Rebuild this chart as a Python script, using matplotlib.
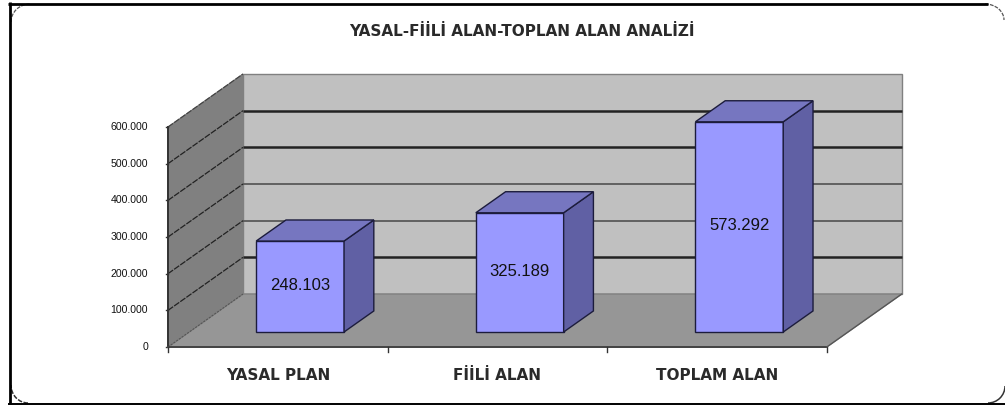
import matplotlib
matplotlib.use('Agg')
import matplotlib.pyplot as plt
from matplotlib.patches import Polygon, Arc

plt.rcParams['font.family'] = ['Liberation Sans', 'DejaVu Sans']

title = 'YASAL-FİİLİ ALAN-TOPLAN ALAN ANALİZİ'
categories = ['YASAL PLAN', 'FİİLİ ALAN', 'TOPLAM ALAN']
values = [248103, 325189, 573292]
value_labels = ['248.103', '325.189', '573.292']
y_ticks = [0, 100000, 200000, 300000, 400000, 500000, 600000]
y_tick_labels = ['0', '100.000', '200.000', '300.000', '400.000', '500.000', '600.000']

# geometri (piksel)
x0, y0 = 168, 347
cat_w = 219.6
px_per_val = 220 / 600000
depth_x, depth_y = 75, 53


def proj(cat, val, depth):
    # cat: kategori ekseni, val: deger, depth: 0 on - 1 arka
    return (x0 + cat * cat_w + depth * depth_x,
            y0 - val * px_per_val - depth * depth_y)


fig = plt.figure(figsize=(10.05, 4.05), dpi=100)
ax = fig.add_axes([0, 0, 1, 1])
ax.set_xlim(0, 1005)
ax.set_ylim(405, 0)
ax.axis('off')

top_val = 600000
# duvarlar ve taban
ax.add_patch(Polygon([proj(0, 0, 1), proj(3, 0, 1), proj(3, top_val, 1), proj(0, top_val, 1)],
                     fc='#c0c0c0', ec='#808080', lw=1))
ax.add_patch(Polygon([proj(0, 0, 0), proj(0, 0, 1), proj(0, top_val, 1), proj(0, top_val, 0)],
                     fc='#808080', ec='#808080', lw=0.8))
ax.add_patch(Polygon([proj(0, 0, 0), proj(3, 0, 0), proj(3, 0, 1), proj(0, 0, 1)],
                     fc='#969696', ec='#808080', lw=1))

# izgara cizgileri
for i, t in enumerate(y_ticks[1:-1]):
    lw = 1.8 if i in (0, 3, 4) else 1.3
    col = '#222222' if i in (0, 3, 4) else '#5a5a5a'
    xs, ys = zip(proj(0, t, 1), proj(3, t, 1))
    ax.plot(xs, ys, color=col, lw=lw, solid_capstyle='butt', zorder=2)
    xs, ys = zip(proj(0, t, 0), proj(0, t, 1))
    ax.plot(xs, ys, color='#222222', lw=0.9, ls=(0, (5, 1)), zorder=2)
xs, ys = zip(proj(0, 600000, 0), proj(0, 600000, 1))
ax.plot(xs, ys, color='#444444', lw=0.9, ls=(0, (5, 1)), zorder=2)
xs, ys = zip(proj(0, 0, 0), proj(0, 0, 1))
ax.plot(xs, ys, color='#555555', lw=0.8, ls=(0, (2, 1)), zorder=2)

# eksenler
xs, ys = zip(proj(0, 0, 0), proj(0, 600000, 0))
ax.plot(xs, ys, color='#333333', lw=1.4, zorder=3)
for t, lab in zip(y_ticks, y_tick_labels):
    x, y = proj(0, t, 0)
    ax.plot([x - 2, x], [y, y], color='#333333', lw=1, zorder=3)
    ax.text(x - 20, y, lab, ha='right', va='center', fontsize=7.6, color='#111111')
xs, ys = zip(proj(0, 0, 0), proj(3, 0, 0))
ax.plot(xs, ys, color='#444444', lw=1.4, zorder=3)
for c in range(4):
    x, y = proj(c, 0, 0)
    ax.plot([x, x], [y, y + 5], color='#333333', lw=1, zorder=3)
xs, ys = zip(proj(3, 0, 0), proj(3, 0, 1))
ax.plot(xs, ys, color='#555555', lw=0.9, zorder=3)

# bar'lar
bar_l, bar_r = 0.305, 0.705
d1, d2 = 0.283, 0.68
for i, (v, vl, cat) in enumerate(zip(values, value_labels, categories)):
    l, r = i + bar_l, i + bar_r
    ax.add_patch(Polygon([proj(l, 0, d1), proj(r, 0, d1), proj(r, v, d1), proj(l, v, d1)],
                         fc='#9999ff', ec='#1c1c3c', lw=1, joinstyle='miter', zorder=4))
    ax.add_patch(Polygon([proj(r, 0, d1), proj(r, 0, d2), proj(r, v, d2), proj(r, v, d1)],
                         fc='#6060a4', ec='#1c1c3c', lw=1, joinstyle='miter', zorder=4))
    ax.add_patch(Polygon([proj(l, v, d1), proj(r, v, d1), proj(r, v, d2), proj(l, v, d2)],
                         fc='#7676c0', ec='#1c1c3c', lw=1, joinstyle='miter', zorder=4))
    cx, cy = proj(i + bar_l + 0.2, v / 2, d1)
    ax.text(cx, cy - 1, vl, ha='center', va='center', fontsize=12, color='#111111', zorder=5)
    tx, _ = proj(i + 0.5, 0, 0)
    ax.text(tx, 375, cat, ha='center', va='center', fontsize=11, family='DejaVu Sans',
            weight='bold', color='#2a2a2a')

ax.text(522, 31, title, ha='center', va='center', fontsize=11, family='DejaVu Sans',
        weight='bold', color='#2a2a2a')

# cerceve
ax.plot([9.5, 9.5], [2, 404], color='black', lw=2, solid_capstyle='butt')
ax.plot([8, 988], [3.5, 3.5], color='black', lw=2, solid_capstyle='butt')
ax.plot([8, 1005], [403.5, 403.5], color='black', lw=1.4, solid_capstyle='butt')
ax.add_patch(Arc((30, 22), 38, 36, theta1=180, theta2=270, color='#555555', lw=0.9, ls=(0, (3, 1))))
ax.add_patch(Arc((28, 385), 34, 36, theta1=90, theta2=180, color='#333333', lw=1.1, ls=(0, (3, 1))))
ax.add_patch(Arc((985, 20), 38, 32, theta1=270, theta2=360, color='#555555', lw=0.9, ls=(0, (3, 1))))
ax.add_patch(Arc((988, 386), 34, 34, theta1=0, theta2=90, color='#333333', lw=1.1))

fig.savefig('out.png', dpi=100)
